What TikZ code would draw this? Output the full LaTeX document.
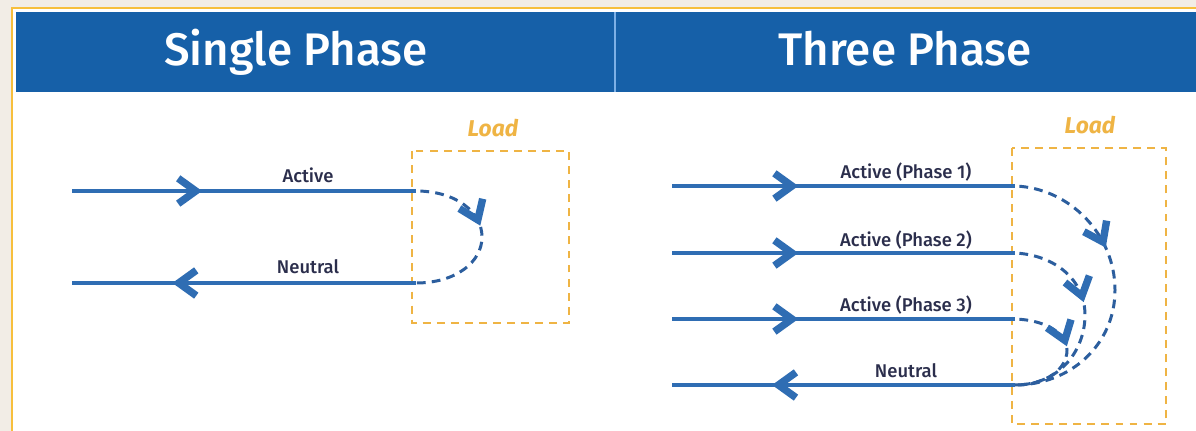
\documentclass[tikz,border=0pt]{standalone}
\usepackage{fontspec}
\setmainfont{Fira Sans}
\newfontfamily\mediumfont{Fira Sans Medium}
\usetikzlibrary{decorations.markings}

\definecolor{bgbeige}{HTML}{F2EDE6}
\definecolor{frameorange}{HTML}{F7BF3C}
\definecolor{headblue}{HTML}{1660A8}
\definecolor{splitblue}{HTML}{7DB0E6}
\definecolor{wireblue}{HTML}{2F6DB3}
\definecolor{loopblue}{HTML}{2C5E9E}
\definecolor{labelnavy}{HTML}{2B2E4C}
\definecolor{loadorange}{HTML}{EFB444}

\begin{document}
\begin{tikzpicture}[
    x=0.02cm,
    y=-0.02cm,
    chevron/.style={solid,draw=wireblue,line width=4.2pt,
        line join=miter,line cap=butt},
    wire/.style={line width=1.9pt,draw=wireblue},
    flowtip/.style={postaction={decorate},
        decoration={markings,mark=at position #1 with
            {\draw[chevron] (-12pt,7.2pt) -- (-2pt,0pt) -- (-12pt,-7.2pt);}}},
    loop/.style={line width=1.7pt,draw=loopblue,
        dash pattern=on 5pt off 3.5pt,dash phase=6pt},
    loadbox/.style={line width=1.4pt,draw=loadorange,
        dash pattern=on 4.5pt off 3.5pt},
    headtext/.style={anchor=base,text=white,
        font=\fontsize{26}{30}\selectfont\mediumfont},
    wirelabel/.style={anchor=base,text=labelnavy,
        font=\fontsize{10.5}{12}\selectfont\mediumfont},
    loadlabel/.style={anchor=base,text=loadorange,
        font=\fontsize{13}{15}\selectfont\bfseries\itshape}
]

\useasboundingbox (0,0) rectangle (1196,431);

% ---------------------------------------------------------
% Background, frame and header band
% ---------------------------------------------------------

\fill[bgbeige] (0,0) rectangle (1196,431);
\fill[white] (12,8) rectangle (1196,431);
\draw[frameorange,line width=1.1pt]
    (12,431) -- (12,8) -- (1196,8);

\fill[headblue] (16,12) rectangle (1196,92);
\draw[splitblue,line width=0.9pt]
    (615,12) -- (615,92);

\node[headtext] (sHead) at (296,66) {Single Phase};
\node[headtext] (tHead) at (905,66) {Three Phase};

% ---------------------------------------------------------
% Single phase
% ---------------------------------------------------------

\coordinate (sAin)  at (72,191);
\coordinate (sAld)  at (416,191);
\coordinate (sNin)  at (72,283);
\coordinate (sNld)  at (416,283);
\coordinate (sTurn) at (482,237);

\draw[loadbox] (412,151) rectangle (569,323);
\node[loadlabel] (sLoad) at (493,137) {Load};

\draw[wire,flowtip=0.37] (sAin) -- (sAld);
\draw[wire,flowtip=0.70] (sNld) -- (sNin);

\node[wirelabel] (sAlbl) at (308,183) {Active};
\node[wirelabel] (sNlbl) at (308,274) {Neutral};

% current through the load
\draw[loop,flowtip=0.42]
    (sAld) .. controls +(40,0) and +(0,-25) .. (sTurn)
           .. controls +(0,25) and +(40,0) .. (sNld);

% ---------------------------------------------------------
% Three phase
% ---------------------------------------------------------

\coordinate (tAin)  at (672,186);
\coordinate (tAld)  at (1015,186);
\coordinate (tBin)  at (672,253);
\coordinate (tBld)  at (1015,253);
\coordinate (tCin)  at (672,319);
\coordinate (tCld)  at (1015,319);
\coordinate (tNin)  at (672,385);
\coordinate (tNld)  at (1015,385);

\coordinate (tTurnA) at (1115,290);
\coordinate (tTurnB) at (1085,315);
\coordinate (tTurnC) at (1067,350);

\draw[loadbox] (1012,148) rectangle (1166,424);
\node[loadlabel] (tLoad) at (1090,134) {Load};

\draw[wire,flowtip=0.36] (tAin) -- (tAld);
\draw[wire,flowtip=0.36] (tBin) -- (tBld);
\draw[wire,flowtip=0.36] (tCin) -- (tCld);
\draw[wire,flowtip=0.70] (tNld) -- (tNin);

\node[wirelabel] (tAlbl) at (906,179) {Active (Phase 1)};
\node[wirelabel] (tBlbl) at (906,247) {Active (Phase 2)};
\node[wirelabel] (tClbl) at (906,312) {Active (Phase 3)};
\node[wirelabel] (tNlbl) at (906,378) {Neutral};

% return paths into the neutral
\draw[loop,flowtip=0.36]
    (tAld) .. controls +(55,2) and +(0,-55) .. (tTurnA)
           .. controls +(0,55) and +(55,0) .. (tNld);

\draw[loop,flowtip=0.41]
    (tBld) .. controls +(40,2) and +(0,-35) .. (tTurnB)
           .. controls +(0,35) and +(45,0) .. (tNld);

\draw[loop,flowtip=0.44]
    (tCld) .. controls +(30,1) and +(0,-17) .. (tTurnC)
           .. controls +(0,20) and +(30,0) .. (tNld);

\end{tikzpicture}
\end{document}
